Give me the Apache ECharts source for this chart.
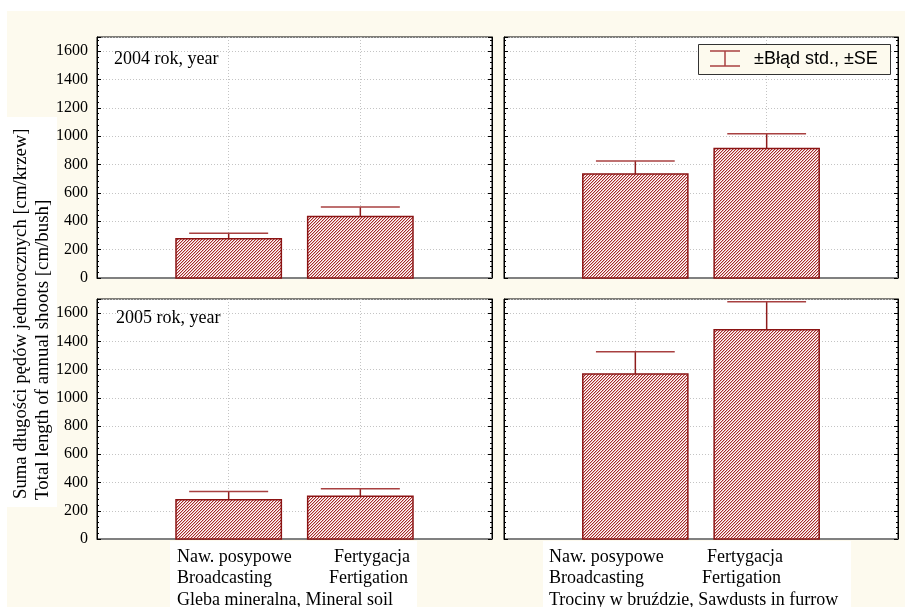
<!DOCTYPE html>
<html>
<head>
<meta charset="utf-8">
<script src="https://cdn.jsdelivr.net/npm/echarts@6/dist/echarts.min.js"></script>
<style>
  html, body { margin: 0; padding: 0; background: #fff; }
  #chart { width: 905px; height: 607px; }
</style>
</head>
<body>
<div id="chart"></div>
<script>
// Treatment names (Polish / English) and site names
const treatmentsPL = ['Naw. posypowe', 'Fertygacja'];
const treatmentsEN = ['Broadcasting', 'Fertigation'];
const sites = ['Gleba mineralna, Mineral soil', 'Trociny w bruździe, Sawdusts in furrow'];
const years = ['2004 rok, year', '2005 rok, year'];

// Total length of annual shoots [cm/bush]: means and standard errors
const mean2004Soil = [276, 434];
const se2004Soil = [40, 66];
const mean2004Sawdust = [734, 913];
const se2004Sawdust = [92, 104];
const mean2005Soil = [278, 302];
const se2005Soil = [59, 54];
const mean2005Sawdust = [1168, 1482];
const se2005Sawdust = [158, 199];

const yTicks = [0, 200, 400, 600, 800, 1000, 1200, 1400, 1600];

// panels in reading order: [year row][site column]
const panels = [
  { mean: mean2004Soil, se: se2004Soil },
  { mean: mean2004Sawdust, se: se2004Sawdust },
  { mean: mean2005Soil, se: se2005Soil },
  { mean: mean2005Sawdust, se: se2005Sawdust }
];

const grids = [
  { left: 97, right: 413, top: 37, height: 241 },
  { left: 504, right: 7, top: 37, height: 241 },
  { left: 97, right: 413, top: 299, height: 240 },
  { left: 504, right: 7, top: 299, height: 240 }
];

// diagonal hatch fill for the bars
function makeHatch() {
  const c = document.createElement('canvas');
  c.width = 3; c.height = 3;
  const ctx = c.getContext('2d');
  ctx.fillStyle = '#ffffff';
  ctx.fillRect(0, 0, 3, 3);
  for (let i = 0; i < 3; i++) {
    ctx.fillStyle = '#a52a2a';
    ctx.fillRect(i, 2 - i, 1, 1);
    ctx.fillStyle = '#e4b4b4';
    ctx.fillRect(i, (3 - i) % 3, 1, 1);
  }
  return c;
}
const hatch = makeHatch();

const SERIF = '"Liberation Serif", "Times New Roman", serif';
const SANS = '"Liberation Sans", Arial, sans-serif';

const xAxes = [], yAxes = [], series = [];
grids.forEach((g, i) => {
  g.show = true;
  g.backgroundColor = '#ffffff';
  g.borderColor = '#000';
  g.borderWidth = 1;
  xAxes.push({
    gridIndex: i, type: 'value', min: 0, max: 3, interval: 1,
    axisLabel: { show: false },
    axisLine: { show: true, onZero: false, lineStyle: { color: '#808080', width: 2 } },
    axisTick: { show: true, inside: true, length: 3, lineStyle: { color: '#000' } },
    splitLine: { show: true, lineStyle: { type: [1, 2], color: '#c4c4c4' } }
  });
  const showLabels = (i % 2 === 0);
  const common = {
    gridIndex: i, type: 'value', min: 0, max: 1700, interval: 200,
    axisTick: { show: true, inside: true, length: 4, lineStyle: { color: '#000' } },
    minorTick: { show: true, splitNumber: 5, length: 2, lineStyle: { color: '#000' } },
    axisLine: { show: true, lineStyle: { color: '#000', width: 1 } }
  };
  yAxes.push(Object.assign({}, common, {
    position: 'left',
    axisLabel: {
      show: showLabels, showMaxLabel: false, margin: 9,
      color: '#000', fontFamily: SERIF, fontSize: 16,
      formatter: v => (yTicks.indexOf(v) >= 0 ? String(v) : '')
    },
    splitLine: { show: true, lineStyle: { type: [1, 2], color: '#c4c4c4' } }
  }));
  yAxes.push(Object.assign({}, common, {
    position: 'right',
    axisLabel: { show: false },
    splitLine: { show: false }
  }));

  const p = panels[i];
  const data = p.mean.map((m, k) => [k + 1, m, p.se[k]]);
  series.push({
    type: 'custom',
    xAxisIndex: i,
    yAxisIndex: i * 2,
    data: data,
    z: 5,
    renderItem: function (params, api) {
      const x = api.value(0), m = api.value(1), s = api.value(2);
      const a = api.coord([x - 0.4, 0]);
      const b = api.coord([x + 0.4, m]);
      const top = api.coord([x, m + s]);
      const mid = api.coord([x, m]);
      const capL = api.coord([x - 0.3, m + s]);
      const capR = api.coord([x + 0.3, m + s]);
      return {
        type: 'group',
        children: [
          {
            type: 'line',
            shape: { x1: mid[0], y1: mid[1], x2: top[0], y2: top[1] },
            style: { stroke: '#8e1c1c', lineWidth: 1.5 }
          },
          {
            type: 'line',
            shape: { x1: capL[0], y1: capL[1], x2: capR[0], y2: capR[1] },
            style: { stroke: '#a84040', lineWidth: 1.5 }
          },
          {
            type: 'rect',
            shape: { x: a[0], y: b[1], width: b[0] - a[0], height: a[1] - b[1] },
            style: { fill: { image: hatch, repeat: 'repeat' }, stroke: '#8b1414', lineWidth: 1.5 }
          }
        ]
      };
    }
  });
});

const CREAM = '#fdfaee';
const F = '18px ' + SERIF;
const graphic = [
  { type: 'rect', z: -10, silent: true, shape: { x: 7, y: 11, width: 898, height: 596 }, style: { fill: CREAM } },
  { type: 'rect', z: -9, silent: true, shape: { x: 7, y: 117, width: 50, height: 390 }, style: { fill: '#fff' } },
  { type: 'rect', z: -9, silent: true, shape: { x: 170, y: 541, width: 247, height: 66 }, style: { fill: '#fff' } },
  { type: 'rect', z: -9, silent: true, shape: { x: 543, y: 541, width: 308, height: 66 }, style: { fill: '#fff' } },
  // y axis title, two lines
  {
    type: 'text', x: 21, y: 499, rotation: Math.PI / 2, z: 10,
    style: { text: 'Suma długości pędów jednorocznych [cm/krzew]', fill: '#000', font: '18.7px ' + SERIF, align: 'left', verticalAlign: 'middle' }
  },
  {
    type: 'text', x: 43, y: 500, rotation: Math.PI / 2, z: 10,
    style: { text: 'Total length of annual shoots [cm/bush]', fill: '#000', font: '18.9px ' + SERIF, align: 'left', verticalAlign: 'middle' }
  },
  // year labels
  { type: 'text', x: 114, y: 59, z: 10, style: { text: years[0], fill: '#000', font: F, verticalAlign: 'middle' } },
  { type: 'text', x: 116, y: 318, z: 10, style: { text: years[1], fill: '#000', font: F, verticalAlign: 'middle' } },
  // category and site labels, left column
  { type: 'text', x: 177, y: 557, z: 10, style: { text: treatmentsPL[0], fill: '#000', font: F, verticalAlign: 'middle' } },
  { type: 'text', x: 410, y: 557, z: 10, style: { text: treatmentsPL[1], fill: '#000', font: F, align: 'right', verticalAlign: 'middle' } },
  { type: 'text', x: 177, y: 578, z: 10, style: { text: treatmentsEN[0], fill: '#000', font: F, verticalAlign: 'middle' } },
  { type: 'text', x: 408, y: 578, z: 10, style: { text: treatmentsEN[1], fill: '#000', font: F, align: 'right', verticalAlign: 'middle' } },
  { type: 'text', x: 177, y: 600, z: 10, style: { text: sites[0], fill: '#000', font: F, verticalAlign: 'middle' } },
  // right column
  { type: 'text', x: 549, y: 557, z: 10, style: { text: treatmentsPL[0], fill: '#000', font: F, verticalAlign: 'middle' } },
  { type: 'text', x: 707, y: 557, z: 10, style: { text: treatmentsPL[1], fill: '#000', font: F, verticalAlign: 'middle' } },
  { type: 'text', x: 549, y: 578, z: 10, style: { text: treatmentsEN[0], fill: '#000', font: F, verticalAlign: 'middle' } },
  { type: 'text', x: 702, y: 578, z: 10, style: { text: treatmentsEN[1], fill: '#000', font: F, verticalAlign: 'middle' } },
  { type: 'text', x: 549, y: 600, z: 10, style: { text: sites[1], fill: '#000', font: F, verticalAlign: 'middle' } },
  // legend
  { type: 'rect', z: 20, shape: { x: 698.5, y: 44.5, width: 192, height: 30 }, style: { fill: CREAM, stroke: '#333', lineWidth: 1 } },
  { type: 'line', z: 21, shape: { x1: 725, y1: 51, x2: 725, y2: 66 }, style: { stroke: '#a84040', lineWidth: 1.5 } },
  { type: 'line', z: 21, shape: { x1: 710, y1: 51, x2: 740, y2: 51 }, style: { stroke: '#a84040', lineWidth: 1.5 } },
  { type: 'line', z: 21, shape: { x1: 710, y1: 66, x2: 740, y2: 66 }, style: { stroke: '#a84040', lineWidth: 1.5 } },
  { type: 'text', z: 21, x: 754, y: 59.5, style: { text: '±Błąd std., ±SE', fill: '#000', font: '18px ' + SANS, verticalAlign: 'middle' } }
];

const chart = echarts.init(document.getElementById('chart'), null, { renderer: 'canvas' });
chart.setOption({
  backgroundColor: '#ffffff',
  animation: false,
  grid: grids,
  xAxis: xAxes,
  yAxis: yAxes,
  series: series,
  graphic: graphic
});
</script>
</body>
</html>
